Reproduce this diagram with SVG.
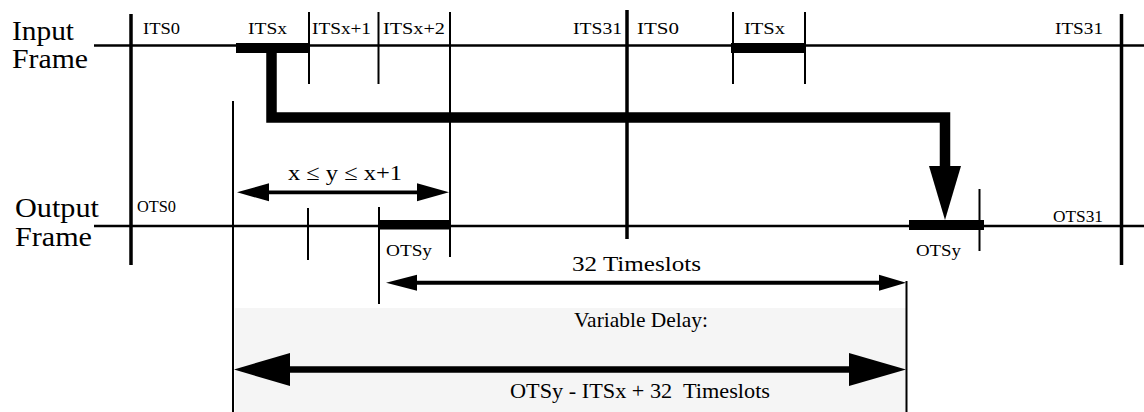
<svg xmlns="http://www.w3.org/2000/svg" width="1144" height="412" viewBox="0 0 1144 412">
<style>
  text { font-family: "Liberation Serif", "Times New Roman", serif; fill: #000; white-space: pre; }
  .big { font-size: 27px; }
  .sm { font-size: 16px; }
  .md { font-size: 22px; }
  .frame { stroke: #000; stroke-width: 2.5; fill: none; }
  .thin { stroke: #000; stroke-width: 2; fill: none; }
  .thick { stroke: #000; stroke-width: 3.5; fill: none; }
  .bar { fill: #000; }
  .head { fill: #000; }
  .shaft { stroke: #000; fill: none; }
</style>

<g id="delay-box">
  <rect x="235" y="308" width="671" height="104" fill="#f5f5f5"/>
</g>

<g id="input-frame">
  <text class="big" x="12" y="40" textLength="62" lengthAdjust="spacingAndGlyphs">Input</text>
  <text class="big" x="12" y="68" textLength="76" lengthAdjust="spacingAndGlyphs">Frame</text>
  <line class="frame" x1="94" y1="45.5" x2="1144" y2="45.5"/>
  <line class="thin" x1="309" y1="12" x2="309" y2="84"/>
  <line class="thin" x1="378.5" y1="12" x2="378.5" y2="84"/>
  <line class="thin" x1="733" y1="12" x2="733" y2="84"/>
  <line class="thin" x1="805" y1="12" x2="805" y2="84"/>
  <rect class="bar" x="236" y="43" width="74" height="10"/>
  <rect class="bar" x="731" y="43" width="75" height="10"/>
  <text class="sm" x="143" y="34" textLength="37" lengthAdjust="spacingAndGlyphs">ITS0</text>
  <text class="sm" x="248" y="34" textLength="39" lengthAdjust="spacingAndGlyphs">ITSx</text>
  <text class="sm" x="312" y="34" textLength="59" lengthAdjust="spacingAndGlyphs">ITSx+1</text>
  <text class="sm" x="383" y="34" textLength="62" lengthAdjust="spacingAndGlyphs">ITSx+2</text>
  <text class="sm" x="573" y="34" textLength="49" lengthAdjust="spacingAndGlyphs">ITS31</text>
  <text class="sm" x="637" y="34" textLength="42" lengthAdjust="spacingAndGlyphs">ITS0</text>
  <text class="sm" x="744" y="34" textLength="41" lengthAdjust="spacingAndGlyphs">ITSx</text>
  <text class="sm" x="1055" y="34" textLength="48" lengthAdjust="spacingAndGlyphs">ITS31</text>
</g>

<g id="frame-boundaries">
  <line class="thick" x1="131" y1="14" x2="131" y2="265"/>
  <line class="thick" x1="627" y1="10" x2="627" y2="239"/>
  <line class="thick" x1="1121.5" y1="14" x2="1121.5" y2="265"/>
  <line class="thin" x1="450" y1="12" x2="450" y2="257"/>
</g>

<g id="output-frame">
  <text class="big" x="15" y="217" textLength="84" lengthAdjust="spacingAndGlyphs">Output</text>
  <text class="big" x="15" y="246" textLength="77" lengthAdjust="spacingAndGlyphs">Frame</text>
  <line class="frame" x1="94" y1="226" x2="1144" y2="226"/>
  <line class="thin" x1="308" y1="208" x2="308" y2="260"/>
  <line class="thin" x1="379" y1="207" x2="379" y2="304"/>
  <line class="thin" x1="979.5" y1="189" x2="979.5" y2="251"/>
  <rect class="bar" x="379" y="220" width="71" height="9.5"/>
  <rect class="bar" x="909" y="220" width="75" height="10"/>
  <text class="sm" x="137" y="212" textLength="39" lengthAdjust="spacingAndGlyphs">OTS0</text>
  <text class="sm" x="386" y="256" textLength="46" lengthAdjust="spacingAndGlyphs">OTSy</text>
  <text class="sm" x="916" y="256" textLength="45" lengthAdjust="spacingAndGlyphs">OTSy</text>
  <text class="sm" x="1053" y="222" textLength="50" lengthAdjust="spacingAndGlyphs">OTS31</text>
</g>

<g id="reference-lines">
  <line class="thin" x1="233" y1="101" x2="233" y2="412"/>
  <line class="thin" x1="906.5" y1="281" x2="906.5" y2="412"/>
</g>

<g id="connectors">
  <path class="shaft" d="M271.5,50 V117.5 H945 V168" stroke-width="10.5" stroke-linejoin="miter"/>
  <polygon class="head" points="929,166 961,166 945,220"/>

  <line class="shaft" x1="260" y1="192.3" x2="425" y2="192.3" stroke-width="3.7"/>
  <polygon class="head" points="237,192.3 269,183.3 269,201.3"/>
  <polygon class="head" points="449,192.3 417,183.3 417,201.3"/>

  <line class="shaft" x1="405" y1="282.7" x2="885" y2="282.7" stroke-width="4"/>
  <polygon class="head" points="386,282.7 417,274.7 417,290.7"/>
  <polygon class="head" points="906,282.7 879,274.7 879,290.7"/>

  <line class="shaft" x1="280" y1="369.5" x2="860" y2="369.5" stroke-width="6.5"/>
  <polygon class="head" points="234,369.5 290,353 290,386"/>
  <polygon class="head" points="906,369.5 849,353 849,386"/>
</g>

<g id="labels">
  <text class="md" x="288" y="180" textLength="114" lengthAdjust="spacingAndGlyphs">x ≤ y ≤ x+1</text>
  <text class="md" x="572" y="271" textLength="129" lengthAdjust="spacingAndGlyphs">32 Timeslots</text>
  <text class="md" x="574" y="327" textLength="134" lengthAdjust="spacingAndGlyphs">Variable Delay:</text>
  <text class="md" x="510" y="398" textLength="260" lengthAdjust="spacingAndGlyphs">OTSy - ITSx + 32  Timeslots</text>
</g>
</svg>
